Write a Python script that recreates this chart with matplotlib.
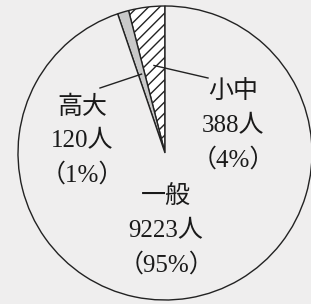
import numpy as np
import matplotlib
matplotlib.use("Agg")
import matplotlib.pyplot as plt

# data
labels = ["小中", "高大", "一般"]
counts = [388, 120, 9223]
percents = [4, 1, 95]

BG = "#efeeee"
FONT = ["Liberation Serif", "Noto Sans CJK JP"]

W, H = 311, 304
fig = plt.figure(figsize=(W / 100, H / 100), dpi=100, facecolor=BG)
ax = fig.add_axes([0, 0, 1, 1])

cx, cy, R = 165, H - 153, 147
plt.rcParams["hatch.linewidth"] = 1.0
wedges, _ = ax.pie(counts, startangle=90, counterclock=True,
                   center=(cx, cy), radius=R,
                   colors=["white", "#c9c9c9", BG],
                   wedgeprops=dict(edgecolor="#222222", linewidth=1.0))
wedges[0].set_hatch("///")

ax.set_xlim(0, W)
ax.set_ylim(0, H)
ax.set_aspect("equal")
ax.axis("off")

# label positions (pixel coords from top)
label_pos = [(233, 92), (82, 107), (166, 197)]
line_end = [(208, 78), (100, 88), None]
line_r = [0.6, 0.56, None]
step = 34

for i, w in enumerate(wedges):
    x, y = label_pos[i]
    lines = [labels[i], f"{counts[i]}人", f"（{percents[i]}%）"]
    for k, s in enumerate(lines):
        ax.text(x, H - (y + k * step), s, ha="center", va="center",
                fontsize=18, family=FONT, color="#1a1a1a")
    if line_end[i] is not None:
        ang = np.deg2rad((w.theta1 + w.theta2) / 2)
        sx = cx + line_r[i] * R * np.cos(ang)
        sy = cy + line_r[i] * R * np.sin(ang)
        ex, ey = line_end[i]
        ax.plot([sx, ex], [sy, H - ey], color="#222222", linewidth=1.0)

fig.savefig("out.png", dpi=100, facecolor=BG)
